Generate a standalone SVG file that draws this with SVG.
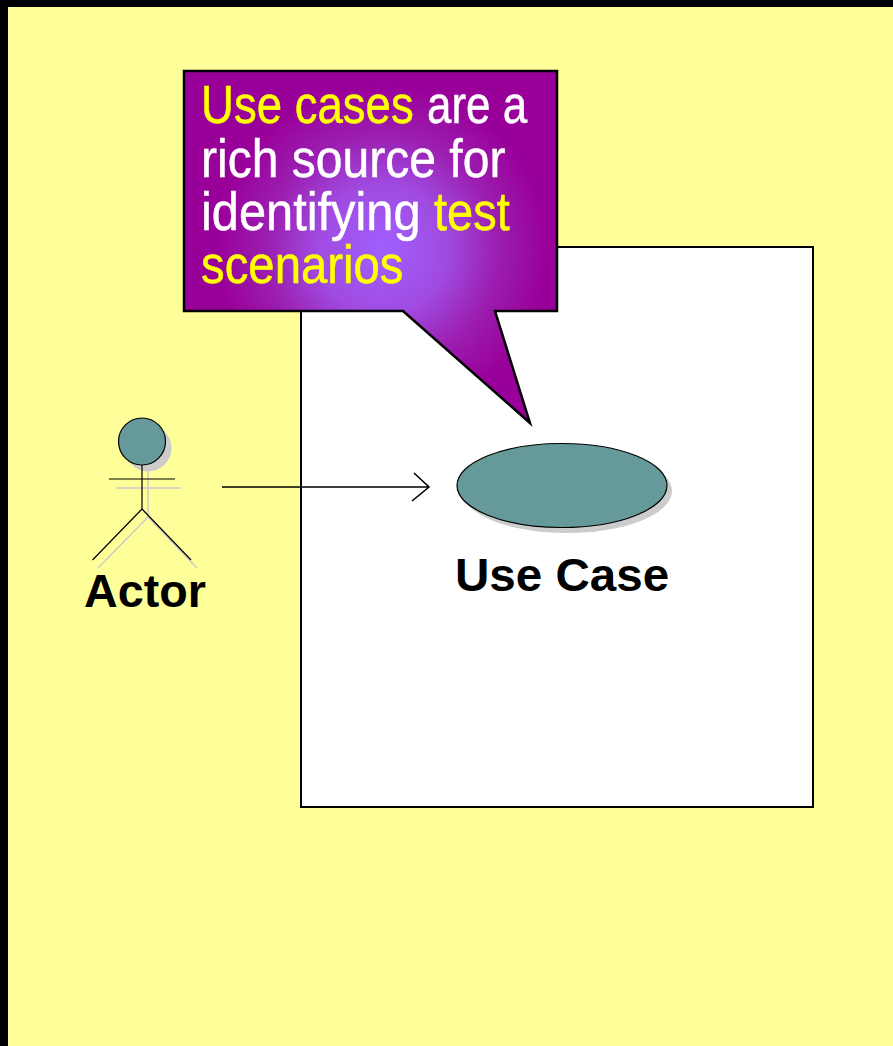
<svg xmlns="http://www.w3.org/2000/svg" width="893" height="1046" viewBox="0 0 893 1046">
<style>
.lbl{font-family:"Liberation Sans",Arial,sans-serif;font-weight:bold;font-size:47px;fill:#000}
.call{font-family:"Liberation Sans",Arial,sans-serif;font-size:53px;stroke-width:.5}
.y{fill:#ffff00;stroke:#ffff00}.w{fill:#fff;stroke:#fff}
.teal{fill:#669999;stroke:#000;stroke-width:1.2}
.shadow{fill:#cccccc}
.sl{stroke:#cccccc;stroke-width:1.5;fill:none}
.al{stroke:#000;stroke-width:1.2;fill:none}
</style>
<defs>
<radialGradient id="g" gradientUnits="userSpaceOnUse" cx="382" cy="250" r="165">
<stop offset="0" stop-color="#a060ff"/>
<stop offset="0.4" stop-color="#a04ae0"/>
<stop offset="0.7" stop-color="#9b1eb0"/>
<stop offset="1" stop-color="#990099"/>
</radialGradient>
</defs>
<rect width="893" height="1046" fill="#000"/>
<rect x="8" y="7" width="885" height="1039" fill="#ffff99"/>
<g id="system"><rect x="301" y="247" width="512" height="560" fill="#fff" stroke="#000" stroke-width="2"/></g>
<g id="actor">
<circle class="shadow" cx="148" cy="448" r="23.5"/>
<path class="sl" d="M116 488H181M148 471V517M148 517L98 568M148 517L197 568"/>
<circle class="teal" cx="142" cy="441.5" r="23.5"/>
<path class="al" d="M109 479H175M142 465V509M142 509L92.500 560M142 509L191 560"/>
<text class="lbl" transform="translate(84 606.500) scale(.993 1)">Actor</text>
</g>
<g id="connectors"><path d="M222 487H429M414 473L429 487L412 501" fill="none" stroke="#000" stroke-width="1.600"/></g>
<g id="usecase">
<ellipse class="shadow" cx="567" cy="491" rx="105" ry="42"/>
<ellipse class="teal" cx="562" cy="485.500" rx="105" ry="42"/>
<text class="lbl" transform="translate(455 590.500) scale(1.012 1)">Use Case</text>
</g>
<g id="callout">
<path d="M184 71H557V311H495L530 423L403 311H184Z" fill="url(#g)" stroke="#000" stroke-width="2.500"/>
<text class="call y" transform="translate(201 123) scale(.86 1)">Use cases</text>
<text class="call w" transform="translate(427 123) scale(.83 1)">are a</text>
<text class="call w" transform="translate(201 177) scale(.907 1)">rich source for</text>
<text class="call w" transform="translate(201 230) scale(.92 1)">identifying</text>
<text class="call y" transform="translate(434 230) scale(.888 1)">test</text>
<text class="call y" transform="translate(201 283) scale(.893 1)">scenarios</text>
</g>
</svg>
